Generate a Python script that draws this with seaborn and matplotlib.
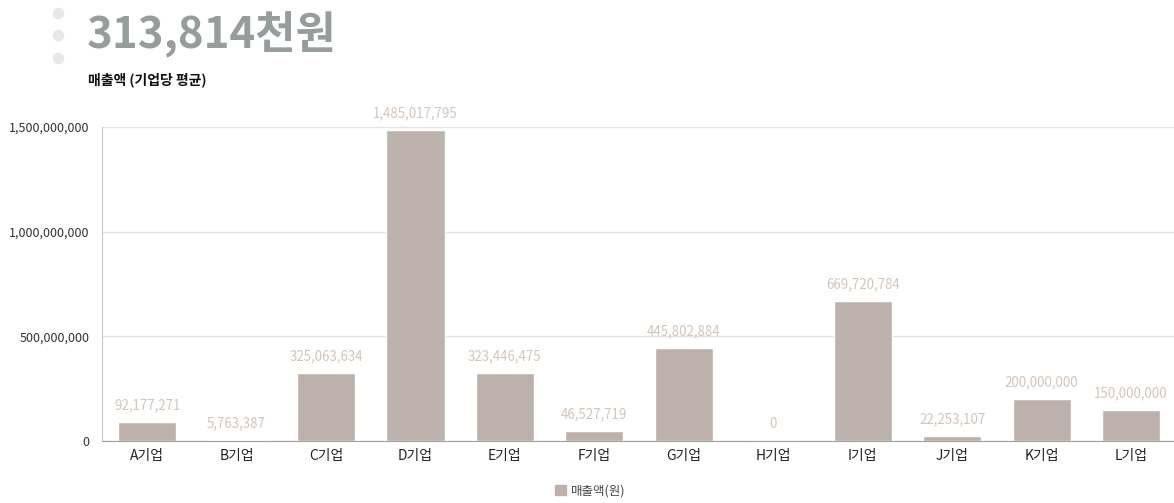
import matplotlib
matplotlib.use('Agg')
import pandas as pd
import matplotlib.pyplot as plt
import matplotlib.ticker as mticker
import seaborn as sns

companies = ['A기업', 'B기업', 'C기업', 'D기업', 'E기업', 'F기업',
             'G기업', 'H기업', 'I기업', 'J기업', 'K기업', 'L기업']
sales = [92177271, 5763387, 325063634, 1485017795, 323446475, 46527719,
         445802884, 0, 669720784, 22253107, 200000000, 150000000]
y_ticks = [0, 500000000, 1000000000, 1500000000]
series_name = '매출액(원)'
headline = '313,814천원'
subtitle = '매출액 (기업당 평균)'

bar_color = '#bfb1a8'
label_color = '#d3c5bb'

sns.set_style('white')
plt.rcParams['font.family'] = ['Noto Sans CJK KR', 'DejaVu Sans']

df = pd.DataFrame({'company': companies, 'sales': sales, 'series': series_name})

fig = plt.figure(figsize=(11.74, 5.03), dpi=100)
ax = fig.add_axes([0.0872, 0.1233, 0.9143, 0.6243])

sns.barplot(data=df, x='company', y='sales', hue='series',
            palette=[bar_color], width=0.65, ax=ax, legend=False)

ax.set_ylim(0, 1500000000)
ax.set_xlim(-0.5, len(companies) - 0.5)
ax.set_yticks(y_ticks)
ax.yaxis.set_major_formatter(mticker.FuncFormatter(lambda v, p: f'{int(v):,}'))
ax.grid(axis='y', color='#e2e2e2', linewidth=1)
ax.set_axisbelow(True)
for side in ['top', 'right']:
    ax.spines[side].set_visible(False)
ax.spines['left'].set_color('#c8c8c8')
ax.spines['bottom'].set_color('#a0a0a0')
ax.tick_params(axis='y', length=0, labelsize=9, labelcolor='#333333', pad=9)
ax.tick_params(axis='x', length=0, labelsize=10, labelcolor='#222222', pad=6)
ax.set_xlabel('')
ax.set_ylabel('')

# value labels above bars
for i, v in enumerate(sales):
    ax.annotate(f'{v:,}', (i, v), xytext=(0, 7), textcoords='offset points',
                ha='center', va='bottom', fontsize=9.6, color=label_color)

# headline block
fig.text(87 / 1174, 1 - 48 / 503, headline, fontsize=31.5, fontweight='bold',
         color='#979c9c', ha='left', va='baseline')
fig.text(88 / 1174, 1 - 84 / 503, subtitle, fontsize=10, fontweight='bold',
         color='#111111', ha='left', va='baseline')
dot_ax = fig.add_axes([0, 0, 1, 1], facecolor='none')
dot_ax.set_xlim(0, 1174)
dot_ax.set_ylim(503, 0)
dot_ax.axis('off')
dot_ax.scatter([58, 58, 58], [13, 35, 58], s=70, color='#e8e8e8', linewidths=0)

# legend
handle = plt.Rectangle((0, 0), 1, 1, color=bar_color)
fig.legend([handle], [series_name], loc='center', bbox_to_anchor=(590 / 1174, 1 - 491 / 503),
           frameon=False, fontsize=9, handlelength=0.9, handleheight=0.9,
           handletextpad=0.4, labelcolor='#444444')

fig.savefig('out.png', dpi=100)
